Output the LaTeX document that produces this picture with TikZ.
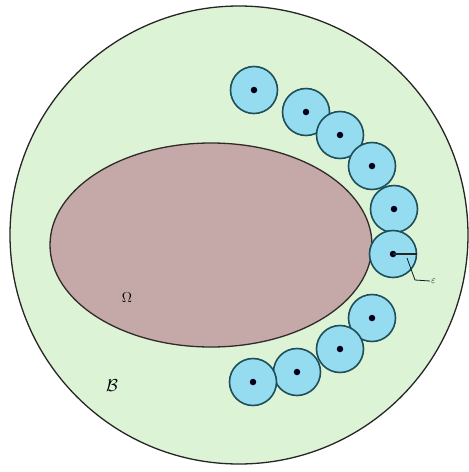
\documentclass[tikz,border=0pt]{standalone}
\usepackage{amsmath}
\begin{document}
\begin{tikzpicture}[x=1pt,y=-1pt,
  bg/.style={fill=bgreen,draw=black!85,line width=1.3pt},
  dom/.style={fill=omega,draw=black!75!omega,line width=1.3pt},
  ball/.style={circle,fill=ballblue,draw=balledge,line width=1.6pt,minimum size=47pt,inner sep=0pt},
  ctr/.style={circle,fill=black!90!blue,inner sep=0pt,minimum size=6.5pt},
  lead/.style={draw=black!60!balledge,line width=0.8pt}]
\definecolor{bgreen}{HTML}{DDF3D5}
\definecolor{omega}{HTML}{C4A9A8}
\definecolor{ballblue}{HTML}{96DCF0}
\definecolor{balledge}{HTML}{1E4F58}
\useasboundingbox (0,0) rectangle (469,472);
\fill[white] (0,0) rectangle (469,472);
\path[bg] (239,235) circle[radius=229];
\path[dom] (211,245) ellipse[x radius=161,y radius=102];
\foreach \n/\x/\y in {1/254/90,2/306/112,3/340/135,4/372/166,5/394/209,6/393/254,7/372/318,8/340/349,9/297/372,10/253/382}{
  \node[ball] (b\n) at (\x,\y) {};
  \node[ctr] (c\n) at (\x,\y) {};
}
\draw[line width=2pt,black!85] (c6.center) -- (b6.east);
\coordinate (l0) at (407,258);
\coordinate (l1) at (415,280);
\node[inner sep=1pt,anchor=west,font=\normalsize] (eps) at (430,281) {$\varepsilon$};
\draw[lead] (l0) -- (l1) -- (eps.west);
\node[font=\fontsize{14}{16}\selectfont] (om) at (127,298) {$\Omega$};
\node[font=\fontsize{16}{18}\selectfont] (bb) at (112,386) {$\mathcal{B}$};
\end{tikzpicture}
\end{document}
